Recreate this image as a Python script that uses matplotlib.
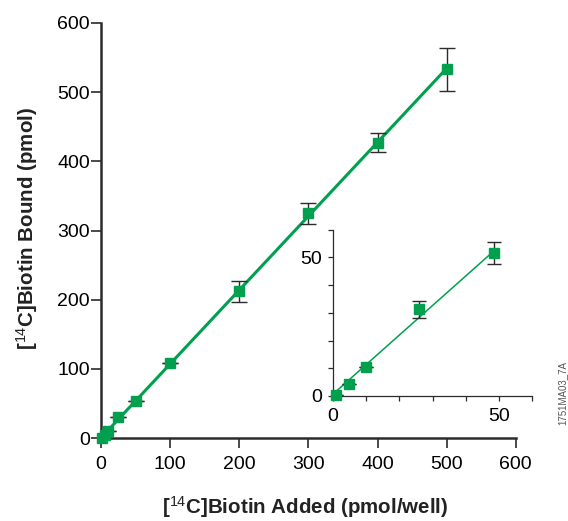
import matplotlib
matplotlib.use("Agg")
import matplotlib.pyplot as plt
import numpy as np

# Main data
added = [1, 5, 10, 25, 50, 100, 200, 300, 400, 500]
bound = [0.5, 4.5, 10.5, 31, 53, 108, 212, 325, 427, 533]
bound_err = [0, 0, 0, 0, 0, 0, 15, 15, 14, 31]

# Inset data
inset_added = [1, 5, 10, 25.8, 48.5]
inset_bound = [0.4, 4.3, 10.5, 31.3, 51.6]
inset_err = [0, 0, 0, 3, 4]

x_ticks = [0, 100, 200, 300, 400, 500, 600]
y_ticks = [0, 100, 200, 300, 400, 500, 600]

GREEN = "#00a04f"
DARK = "#2b2b2b"

plt.rcParams['font.family'] = ['Liberation Sans', 'DejaVu Sans']
plt.rcParams['mathtext.fontset'] = 'custom'
plt.rcParams['mathtext.rm'] = 'Liberation Sans'
plt.rcParams['mathtext.it'] = 'Liberation Sans'

fig = plt.figure(figsize=(5.68, 5.21), dpi=100)
ax = fig.add_axes([0.178, 0.159, 0.730, 0.797])

slope, intercept = np.polyfit(added, bound, 1)
xl = np.array([0, 500])
ax.plot(xl, slope * xl + intercept, color=GREEN, lw=2.2, zorder=2)
ax.errorbar(added, bound, yerr=bound_err, fmt='none', ecolor=DARK, elinewidth=1.0,
            capsize=6, capthick=1.0, zorder=3)
ax.plot(added, bound, 's', color=GREEN, markersize=7.8, zorder=4, clip_on=False)

ax.set_xlim(0, 600)
ax.set_ylim(0, 600)
ax.set_xticks(x_ticks)
ax.set_yticks(y_ticks)
for s in ['top', 'right']:
    ax.spines[s].set_visible(False)
for s in ['left', 'bottom']:
    ax.spines[s].set_linewidth(1.8)
    ax.spines[s].set_color(DARK)
ax.tick_params(axis='y', direction='out', length=7, width=1.2, pad=1, labelsize=14, color=DARK)
ax.tick_params(axis='x', direction='out', length=7, width=1.2, pad=6, labelsize=14, color=DARK)

label_font = dict(family=['Liberation Sans', 'DejaVu Sans'], fontweight='bold', fontsize=14.8, color='#222222')
fig.text(0.537, 0.026, r'[$^{14}$C]Biotin Added (pmol/well)', ha='center', va='center', **label_font)
fig.text(0.048, 0.562, r'[$^{14}$C]Biotin Bound (pmol)', ha='center', va='center', rotation=90, **label_font)

# Inset
axi = fig.add_axes([0.586, 0.240, 0.351, 0.319])
xi = np.array([1, 48.5])
axi.plot(xi, slope * xi + intercept, color=GREEN, lw=1.1, zorder=2)
axi.errorbar(inset_added, inset_bound, yerr=inset_err, fmt='none', ecolor=DARK, elinewidth=1.0,
             capsize=5, capthick=1.0, zorder=3)
axi.plot(inset_added, inset_bound, 's', color=GREEN, markersize=7.5, zorder=4, clip_on=False)
axi.set_xlim(0, 60)
axi.set_ylim(0, 60)
axi.set_xticks([0, 10, 20, 30, 40, 50, 60])
axi.set_xticklabels(['0', '', '', '', '', '50', ''])
axi.set_yticks([0, 10, 20, 30, 40, 50, 60])
axi.set_yticklabels(['0', '', '', '', '', '50', ''])
axi.patch.set_alpha(0)
for s in ['top', 'right']:
    axi.spines[s].set_visible(False)
for s in ['left', 'bottom']:
    axi.spines[s].set_linewidth(0.9)
    axi.spines[s].set_color(DARK)
axi.tick_params(axis='y', direction='out', length=3.5, width=0.9, pad=4, labelsize=14, color=DARK)
axi.tick_params(axis='x', direction='out', length=3.5, width=0.9, pad=5, labelsize=14, color=DARK)

fig.text(0.991, 0.246, '1751MA03_7A', rotation=90, ha='center', va='center',
         fontsize=7, color='#555555', family=['Liberation Sans', 'DejaVu Sans'])

fig.savefig('out.png', dpi=100)
